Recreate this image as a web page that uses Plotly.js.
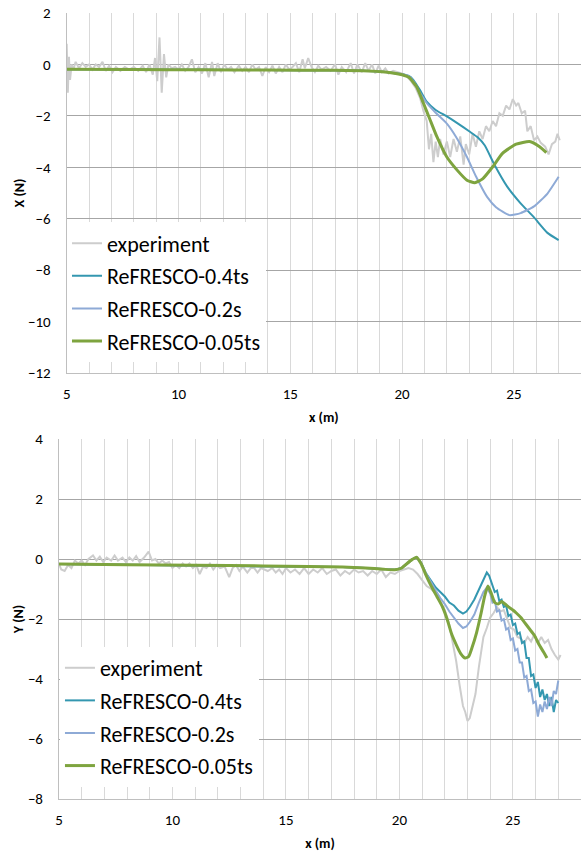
<!DOCTYPE html>
<html>
<head>
<meta charset="utf-8">
<script src="https://cdn.plot.ly/plotly-3.0.1.min.js"></script>
<style>html,body{margin:0;padding:0;background:#fff;}#chart{width:581px;height:855px;}</style>
</head>
<body>
<div id="chart"></div>
<script>
// ---------- Data ----------
const seriesNames = ["experiment", "ReFRESCO-0.4ts", "ReFRESCO-0.2s", "ReFRESCO-0.05ts"];
const xTickVals = [5, 10, 15, 20, 25];

// Top panel: X (N)
const topExpX = [5.0,5.05,5.1,5.15,5.22,5.3,5.4,5.55,5.7,5.85,6.0,6.15,6.3,6.45,6.6,6.75,6.9,7.05,7.2,7.4,7.6,7.8,8.0,8.2,8.4,8.55,8.7,8.85,8.95,9.05,9.15,9.25,9.35,9.45,9.55,9.7,9.85,10.0,10.15,10.3,10.45,10.6,10.75,10.9,11.05,11.2,11.35,11.5,11.6,11.75,11.9,12.05,12.2,12.35,12.5,12.7,12.85,13.0,13.15,13.3,13.45,13.6,13.75,13.9,14.05,14.2,14.35,14.5,14.65,14.8,14.95,15.1,15.25,15.4,15.55,15.65,15.8,15.95,16.1,16.25,16.4,16.6,16.8,17.0,17.15,17.3,17.5,17.7,17.85,18.0,18.2,18.35,18.5,18.65,18.8,18.95,19.1,19.25,19.4,19.6,19.8,20.0,20.2,20.4,20.6,20.8,20.95,21.1,21.2,21.3,21.4,21.5,21.6,21.7,21.85,22.0,22.15,22.3,22.45,22.6,22.75,22.85,23.0,23.15,23.3,23.45,23.6,23.75,23.9,24.05,24.2,24.35,24.5,24.65,24.8,24.95,25.1,25.2,25.35,25.5,25.6,25.75,25.9,26.05,26.2,26.4,26.55,26.7,26.85,26.95,27.05];
const topExpY = [0.8,-1.1,0.3,-0.6,0.0,-0.2,0.1,-0.15,0.05,-0.1,0.0,-0.2,0.0,-0.1,0.1,-0.25,-0.05,-0.3,-0.1,-0.25,-0.1,-0.2,-0.1,-0.25,-0.05,-0.3,0.0,-0.4,0.25,-0.65,1.05,-1.1,0.4,-0.5,0.0,-0.15,-0.1,-0.2,0.0,-0.25,-0.1,0.2,-0.3,-0.1,-0.35,0.05,-0.5,0.1,-0.45,0.05,-0.3,0.0,-0.2,-0.1,-0.3,-0.05,-0.25,-0.1,-0.3,0.0,-0.2,-0.1,-0.45,-0.1,-0.3,-0.05,-0.35,-0.1,-0.3,0.0,-0.2,-0.1,0.05,-0.3,0.2,-0.15,0.25,-0.1,-0.3,-0.05,-0.2,-0.1,-0.25,0.0,-0.4,-0.1,-0.3,0.05,-0.35,0.0,-0.3,0.05,-0.25,0.0,-0.35,-0.05,-0.3,-0.15,-0.35,-0.25,-0.3,-0.35,-0.45,-0.65,-0.9,-1.3,-1.8,-2.2,-3.3,-2.7,-3.8,-3.0,-3.6,-2.9,-3.5,-3.0,-3.6,-2.9,-3.4,-2.8,-3.9,-3.1,-3.5,-2.7,-3.2,-2.6,-2.9,-2.4,-2.6,-2.2,-2.4,-1.9,-2.0,-1.6,-1.75,-1.35,-1.6,-1.5,-1.9,-1.8,-2.6,-2.4,-2.95,-2.8,-3.05,-3.2,-3.5,-3.1,-3.0,-2.7,-2.95];

const topTealX = [5,8,11,14,17,18.5,19.5,20.0,20.3,20.5,20.8,21.1,21.5,22.0,22.5,23.0,23.4,23.7,24.1,24.7,25.3,25.9,26.5,27.0];
const topTealY = [-0.19,-0.2,-0.21,-0.22,-0.23,-0.26,-0.32,-0.38,-0.45,-0.6,-1.0,-1.45,-1.77,-2.02,-2.3,-2.6,-2.85,-3.15,-3.85,-4.75,-5.4,-5.95,-6.55,-6.83];
const topBlueX = [5,8,11,14,17,18.5,19.5,20.0,20.3,20.5,20.8,21.1,21.5,22.0,22.4,22.9,23.3,23.8,24.2,24.8,25.3,25.9,26.5,27.0];
const topBlueY = [-0.19,-0.2,-0.21,-0.22,-0.23,-0.26,-0.32,-0.38,-0.45,-0.65,-1.1,-1.5,-1.88,-2.3,-2.8,-3.6,-4.35,-5.15,-5.55,-5.86,-5.78,-5.52,-5.02,-4.37];
const topGreenX = [5,8,11,14,17,18.5,19.5,20.0,20.3,20.65,20.95,21.25,21.55,22.0,22.45,22.9,23.25,23.6,24.05,24.5,25.1,25.7,26.15,26.45];
const topGreenY = [-0.19,-0.2,-0.21,-0.22,-0.23,-0.26,-0.32,-0.4,-0.5,-0.87,-1.5,-2.15,-2.8,-3.6,-4.1,-4.5,-4.6,-4.45,-3.98,-3.45,-3.1,-3.0,-3.2,-3.43];

// Bottom panel: Y (N)
const botExpX = [5.0,5.1,5.25,5.4,5.55,5.7,5.85,6.0,6.15,6.3,6.5,6.65,6.8,6.95,7.1,7.3,7.45,7.6,7.8,7.95,8.1,8.25,8.4,8.55,8.75,8.95,9.1,9.25,9.4,9.55,9.7,9.85,10.0,10.15,10.3,10.45,10.6,10.75,10.9,11.05,11.2,11.35,11.5,11.65,11.8,11.95,12.1,12.3,12.5,12.65,12.8,12.95,13.1,13.3,13.45,13.6,13.75,13.9,14.05,14.2,14.4,14.55,14.7,14.85,15.0,15.2,15.4,15.6,15.8,16.0,16.2,16.4,16.6,16.8,17.0,17.2,17.4,17.6,17.8,18.0,18.2,18.4,18.6,18.8,19.0,19.2,19.4,19.6,19.8,20.0,20.2,20.4,20.6,20.8,21.0,21.2,21.4,21.6,21.8,22.0,22.2,22.35,22.5,22.65,22.8,22.9,23.0,23.1,23.2,23.35,23.5,23.6,23.7,23.85,24.0,24.15,24.3,24.45,24.6,24.75,24.9,25.05,25.2,25.35,25.5,25.65,25.8,25.95,26.1,26.25,26.4,26.55,26.7,26.85,27.0,27.1];
const botExpY = [-0.15,-0.35,-0.4,-0.2,-0.3,-0.05,-0.15,-0.05,-0.2,0.0,0.12,-0.05,0.08,-0.1,0.05,-0.05,0.12,-0.05,0.05,-0.1,0.05,-0.05,0.1,-0.1,0.05,0.25,-0.05,0.0,-0.15,-0.05,-0.15,-0.1,-0.3,-0.2,-0.3,-0.15,-0.25,-0.15,-0.3,-0.2,-0.5,-0.25,-0.3,-0.15,-0.35,-0.2,-0.3,-0.25,-0.6,-0.3,-0.2,-0.4,-0.25,-0.45,-0.3,-0.3,-0.45,-0.3,-0.35,-0.4,-0.3,-0.45,-0.35,-0.5,-0.3,-0.45,-0.35,-0.5,-0.3,-0.5,-0.35,-0.45,-0.3,-0.5,-0.4,-0.35,-0.55,-0.4,-0.5,-0.35,-0.45,-0.4,-0.55,-0.4,-0.5,-0.35,-0.6,-0.45,-0.5,-0.4,-0.35,-0.3,-0.35,-0.5,-0.7,-0.9,-1.0,-1.15,-1.4,-1.7,-2.2,-2.8,-3.4,-4.2,-4.9,-5.1,-5.4,-5.3,-5.0,-4.5,-3.6,-3.1,-2.6,-2.3,-1.95,-1.8,-1.6,-1.75,-1.7,-2.0,-2.3,-2.35,-2.6,-2.65,-2.8,-2.6,-2.75,-2.5,-2.8,-2.6,-2.8,-2.7,-3.0,-3.2,-3.35,-3.2];

const botTealX = [5,8,11,14,16,17.5,18.5,19.3,19.8,20.1,20.35,20.55,20.75,20.95,21.15,21.4,21.6,21.8,22.0,22.2,22.4,22.6,22.8,22.95,23.1,23.3,23.5,23.7,23.85,23.95,24.1,24.2,24.3,24.4,24.5,24.6,24.7,24.8,24.9,25.0,25.1,25.2,25.3,25.4,25.5,25.6,25.7,25.8,25.9,26.0,26.1,26.2,26.3,26.4,26.5,26.6,26.7,26.8,26.9,27.0];
const botTealY = [-0.17,-0.19,-0.21,-0.23,-0.25,-0.27,-0.3,-0.34,-0.36,-0.3,-0.14,-0.02,0.06,-0.12,-0.45,-0.75,-0.95,-1.1,-1.25,-1.45,-1.55,-1.72,-1.82,-1.75,-1.6,-1.35,-1.0,-0.65,-0.45,-0.55,-0.9,-1.1,-1.05,-1.4,-1.35,-1.6,-1.55,-1.9,-1.85,-2.2,-2.15,-2.5,-2.45,-2.8,-2.75,-3.3,-3.3,-3.9,-3.85,-4.3,-4.1,-4.6,-4.35,-4.7,-4.5,-4.9,-4.6,-5.1,-4.7,-4.8];
const botBlueX = [5,8,11,14,16,17.5,18.5,19.3,19.8,20.1,20.35,20.55,20.75,20.95,21.15,21.4,21.6,21.8,22.0,22.2,22.4,22.6,22.8,22.95,23.1,23.3,23.5,23.7,23.85,24.0,24.1,24.2,24.3,24.4,24.5,24.6,24.7,24.8,24.9,25.0,25.1,25.2,25.3,25.4,25.5,25.6,25.7,25.8,25.9,26.0,26.1,26.2,26.3,26.4,26.5,26.6,26.7,26.8,26.9,27.0];
const botBlueY = [-0.17,-0.19,-0.21,-0.23,-0.25,-0.27,-0.3,-0.34,-0.36,-0.3,-0.14,-0.02,0.06,-0.12,-0.45,-0.8,-1.05,-1.3,-1.5,-1.75,-1.95,-2.15,-2.3,-2.25,-2.1,-1.85,-1.45,-1.1,-0.95,-1.15,-1.45,-1.4,-1.75,-1.7,-2.05,-2.0,-2.35,-2.3,-2.7,-2.65,-3.05,-3.0,-3.45,-3.45,-3.95,-3.9,-4.4,-4.35,-4.8,-4.75,-5.25,-4.85,-5.1,-4.75,-5.0,-4.6,-4.9,-4.4,-4.5,-4.05];
const botGreenX = [5,8,11,14,16,17.5,18.5,19.3,19.8,20.1,20.35,20.55,20.75,20.95,21.15,21.4,21.65,21.9,22.1,22.3,22.5,22.7,22.9,23.05,23.2,23.4,23.6,23.75,23.9,24.05,24.2,24.35,24.5,24.65,24.85,25.0,25.15,25.35,25.55,25.75,25.95,26.15,26.35,26.5];
const botGreenY = [-0.17,-0.19,-0.21,-0.23,-0.25,-0.27,-0.3,-0.34,-0.36,-0.3,-0.14,-0.02,0.06,-0.15,-0.5,-0.9,-1.25,-1.6,-2.0,-2.5,-2.85,-3.15,-3.3,-3.25,-2.95,-2.45,-1.8,-1.25,-0.9,-1.15,-1.45,-1.5,-1.42,-1.5,-1.62,-1.7,-1.8,-1.95,-2.15,-2.35,-2.55,-2.85,-3.1,-3.3];

// ---------- Styles ----------
const colors = ["#cdcdcd", "#3497b0", "#8eaad6", "#7ea43f"];
const widths = [2, 2, 2, 3];
const FONT = "Carlito, Lato, 'Liberation Sans', sans-serif";

function tr(x, y, i, xa, ya, leg, shape) {
  return {
    x: x, y: y, type: "scatter", mode: "lines", name: seriesNames[i],
    xaxis: xa, yaxis: ya, legend: leg, legendgroup: leg + i,
    line: {color: colors[i], width: widths[i], shape: shape, smoothing: 0.5}
  };
}

const data = [
  tr(topExpX, topExpY, 0, "x", "y", "legend", "linear"),
  tr(topTealX, topTealY, 1, "x", "y", "legend", "spline"),
  tr(topBlueX, topBlueY, 2, "x", "y", "legend", "spline"),
  tr(topGreenX, topGreenY, 3, "x", "y", "legend", "spline"),
  tr(botExpX, botExpY, 0, "x2", "y2", "legend2", "linear"),
  tr(botTealX, botTealY, 1, "x2", "y2", "legend2", "linear"),
  tr(botBlueX, botBlueY, 2, "x2", "y2", "legend2", "linear"),
  tr(botGreenX, botGreenY, 3, "x2", "y2", "legend2", "spline")
];

function xAxis(domain, anchor) {
  return {
    domain: domain, anchor: anchor, range: [5, 28], tickvals: xTickVals,
    showgrid: true, gridcolor: "#d9d9d9", gridwidth: 1,
    minor: {dtick: 1, tick0: 5, showgrid: true, gridcolor: "#d9d9d9", gridwidth: 1},
    showline: true, linecolor: "#bfbfbf", linewidth: 1, zeroline: false,
    ticks: "", ticklabelstandoff: 7, tickfont: {family: FONT, size: 15, color: "#000"},
    title: {text: "x (m)", font: {family: FONT, size: 14, color: "#000", weight: "bold"}, standoff: 10},
    fixedrange: true
  };
}
function yAxis(domain, anchor, range, title) {
  return {
    domain: domain, anchor: anchor, range: range, dtick: 2,
    showgrid: true, gridcolor: "#a6a6a6", gridwidth: 1,
    showline: true, linecolor: "#bfbfbf", linewidth: 1, zeroline: false,
    ticks: "", ticklabelstandoff: 12, tickfont: {family: FONT, size: 15, color: "#000"},
    title: {text: title, font: {family: FONT, size: 14, color: "#000", weight: "bold"}, standoff: 0},
    fixedrange: true
  };
}

const legendBase = {
  xanchor: "left", yanchor: "top", bgcolor: "#ffffff", borderwidth: 0,
  font: {family: FONT, size: 22, color: "#000"}, tracegroupgap: 1, itemwidth: 30
};

const layout = {
  width: 581, height: 855,
  margin: {l: 0, r: 0, t: 0, b: 0},
  paper_bgcolor: "#ffffff", plot_bgcolor: "#ffffff",
  showlegend: true,
  xaxis: xAxis([0.1148, 1], "y"),
  yaxis: yAxis([0.5637, 0.9848], "x", [-12, 2], "X (N)"),
  xaxis2: xAxis([0.1015, 1], "y2"),
  yaxis2: yAxis([0.0655, 0.4865], "x2", [-8, 4], "Y (N)"),
  legend: Object.assign({x: 0.1153, y: 0.7398}, legendBase),
  legend2: Object.assign({x: 0.1032, y: 0.2433}, legendBase)
};

Plotly.newPlot("chart", data, layout, {displayModeBar: false, staticPlot: true});
</script>
</body>
</html>
